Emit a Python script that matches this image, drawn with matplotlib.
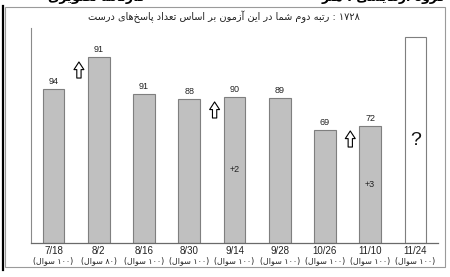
import re
import matplotlib
matplotlib.use("Agg")
import matplotlib.pyplot as plt
from matplotlib.patches import Rectangle
from matplotlib.lines import Line2D

plt.rcParams['font.family'] = ['Liberation Sans', 'DejaVu Sans']

# data
dates = ["7/18", "8/2", "8/16", "8/30", "9/14", "9/28", "10/26", "11/10", "11/24"]
questions = ["(۱۰۰ سوال)", "(۸۰ سوال)", "(۱۰۰ سوال)", "(۱۰۰ سوال)", "(۱۰۰ سوال)",
             "(۱۰۰ سوال)", "(۱۰۰ سوال)", "(۱۰۰ سوال)", "(۱۰۰ سوال)"]
heights = [74.8, 90.3, 72.3, 69.9, 70.9, 70.4, 54.9, 56.8]
labels = ["94", "91", "91", "88", "90", "89", "69", "72"]
up_arrows = [1, 4, 7]
gains = {4: "+2", 7: "+3"}
next_label = "?"
title = "۱۷۲۸ : رتبه دوم شما در این آزمون بر اساس تعداد پاسخ\u200cهای درست"
header_right = "گروه آزمایشی : هنر"
header_left = "کارنامه تصویری"

# matplotlib has no arabic shaping, so do it by hand
FORMS = {
    'ا': ('\uFE8D', '\uFE8E', None, None),
    'آ': ('\uFE81', '\uFE82', None, None),
    'ب': ('\uFE8F', '\uFE90', '\uFE91', '\uFE92'),
    'پ': ('\uFB56', '\uFB57', '\uFB58', '\uFB59'),
    'ت': ('\uFE95', '\uFE96', '\uFE97', '\uFE98'),
    'خ': ('\uFEA5', '\uFEA6', '\uFEA7', '\uFEA8'),
    'د': ('\uFEA9', '\uFEAA', None, None),
    'ر': ('\uFEAD', '\uFEAE', None, None),
    'ز': ('\uFEAF', '\uFEB0', None, None),
    'س': ('\uFEB1', '\uFEB2', '\uFEB3', '\uFEB4'),
    'ش': ('\uFEB5', '\uFEB6', '\uFEB7', '\uFEB8'),
    'ص': ('\uFEB9', '\uFEBA', '\uFEBB', '\uFEBC'),
    'ع': ('\uFEC9', '\uFECA', '\uFECB', '\uFECC'),
    'ک': ('\uFB8E', '\uFB8F', '\uFB90', '\uFB91'),
    'گ': ('\uFB92', '\uFB93', '\uFB94', '\uFB95'),
    'ل': ('\uFEDD', '\uFEDE', '\uFEDF', '\uFEE0'),
    'م': ('\uFEE1', '\uFEE2', '\uFEE3', '\uFEE4'),
    'ن': ('\uFEE5', '\uFEE6', '\uFEE7', '\uFEE8'),
    'ه': ('\uFEE9', '\uFEEA', '\uFEEB', '\uFEEC'),
    'و': ('\uFEED', '\uFEEE', None, None),
    'ی': ('\uFBFC', '\uFBFD', '\uFBFE', '\uFBFF'),
}


def shape(s):
    out = []
    for i, c in enumerate(s):
        if c not in FORMS:
            out.append(c)
            continue
        prev = s[i - 1] if i > 0 else None
        nxt = s[i + 1] if i < len(s) - 1 else None
        jp = prev in FORMS and FORMS[prev][2] is not None
        jn = nxt in FORMS and FORMS[c][2] is not None
        iso, fin, ini, med = FORMS[c]
        if jp and jn:
            out.append(med)
        elif jp:
            out.append(fin)
        elif jn:
            out.append(ini)
        else:
            out.append(iso)
    return ''.join(out).replace('\u200c', '')


def rtl(s):
    runs = re.findall(r'[0-9۰-۹]+|[^0-9۰-۹]+', shape(s))
    vis = []
    for r in reversed(runs):
        if re.match(r'[0-9۰-۹]', r):
            vis.append(r)
        else:
            vis.append(r[::-1].translate(str.maketrans('()', ')(')))
    return ''.join(vis)


W, H = 450, 277
fig = plt.figure(figsize=(W / 100, H / 100), dpi=100)

# outer frame and left page line
fig.add_artist(Rectangle((5 / W, 1 - 267 / H), 440 / W, 260 / H, transform=fig.transFigure,
                         fill=False, ec="#9a9a9a", lw=0.8))
fig.add_artist(Line2D([3 / W, 3 / W], [1 - 6 / H, 1 - 270 / H], transform=fig.transFigure,
                      color="black", lw=1.6))

ax = fig.add_axes([31 / W, 34 / H, 407 / W, 215 / H])
x = list(range(len(dates)))
ax.bar(x[:len(heights)], heights, width=0.48, color="#c0c0c0", edgecolor="#7f7f7f", lw=0.8)
ax.bar(x[-1], 100, width=0.48, color="white", edgecolor="#7f7f7f", lw=0.8)

for i, h in enumerate(heights):
    ax.text(i, h + 1.5, labels[i], ha="center", va="bottom", fontsize=6.5, color="#222222")
for i in up_arrows:
    top = heights[i] - 2.4
    ax.annotate("", xy=(i - 0.44, top), xytext=(i - 0.44, top - 7.8),
                arrowprops=dict(arrowstyle="simple,head_length=0.5,head_width=0.65,tail_width=0.28",
                                mutation_scale=11, shrinkA=0, shrinkB=0,
                                fc="white", ec="black", lw=0.8))
for i, g in gains.items():
    ax.text(i, heights[i] / 2, g, ha="center", va="center", fontsize=6.5, color="#222222")
ax.text(x[-1], 50, next_label, ha="center", va="center", fontsize=14, color="#111111")

ax.set_xlim(-0.5, 8.5)
ax.set_ylim(0, 104.4)
ax.set_xticks([])
ax.set_yticks([])
for side in ["top", "right"]:
    ax.spines[side].set_visible(False)
ax.spines["left"].set_color("#8a8a8a")
ax.spines["bottom"].set_color("#6a6a6a")
ax.spines["left"].set_linewidth(0.8)
ax.spines["bottom"].set_linewidth(0.9)

tr = ax.get_xaxis_transform()
for i in x:
    ax.text(i, -8 / 215, dates[i], transform=tr, ha="center", va="center", fontsize=7, color="#222222")
    ax.text(i, -18 / 215, rtl(questions[i]), transform=tr, ha="center", va="center",
            fontsize=5.8, color="#222222", family="DejaVu Sans")

fig.text(224 / W, 1 - 17 / H, rtl(title), ha="center", va="center", fontsize=7,
         family="DejaVu Sans", color="#222222")
# page header, cut off by the top edge as in the reference
fig.text(445 / W, 1 - 1.5 / H, rtl(header_right), ha="right", va="baseline", fontsize=9,
         family="DejaVu Sans", weight="bold")
fig.text(48 / W, 1 - 1.5 / H, rtl(header_left), ha="left", va="baseline", fontsize=9,
         family="DejaVu Sans", weight="bold")

fig.savefig("out.png", dpi=100)
